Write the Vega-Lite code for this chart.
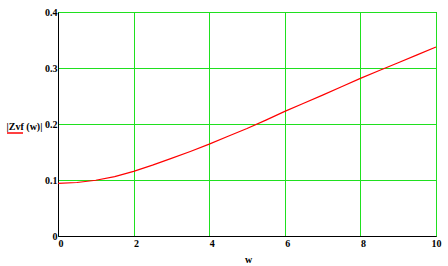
{
  "$schema": "https://vega.github.io/schema/vega-lite/v6.json",
  "width": 378,
  "height": 224,
  "autosize": {"type": "none"},
  "padding": {"left": 58, "top": 12, "right": 12, "bottom": 30},
  "background": "white",
  "config": {
    "view": {"stroke": "black", "strokeWidth": 1},
    "font": "Liberation Serif"
  },
  "data": {
    "values": [
      {"w": 0, "z": 0.094, "s": "Zvf"},
      {"w": 0.5, "z": 0.0955, "s": "Zvf"},
      {"w": 1, "z": 0.0995, "s": "Zvf"},
      {"w": 1.5, "z": 0.106, "s": "Zvf"},
      {"w": 2, "z": 0.1155, "s": "Zvf"},
      {"w": 2.5, "z": 0.1265, "s": "Zvf"},
      {"w": 3, "z": 0.1385, "s": "Zvf"},
      {"w": 3.5, "z": 0.151, "s": "Zvf"},
      {"w": 4, "z": 0.164, "s": "Zvf"},
      {"w": 4.5, "z": 0.178, "s": "Zvf"},
      {"w": 5, "z": 0.192, "s": "Zvf"},
      {"w": 5.5, "z": 0.207, "s": "Zvf"},
      {"w": 6, "z": 0.2225, "s": "Zvf"},
      {"w": 6.5, "z": 0.237, "s": "Zvf"},
      {"w": 7, "z": 0.2515, "s": "Zvf"},
      {"w": 7.5, "z": 0.2665, "s": "Zvf"},
      {"w": 8, "z": 0.2815, "s": "Zvf"},
      {"w": 8.5, "z": 0.2955, "s": "Zvf"},
      {"w": 9, "z": 0.3095, "s": "Zvf"},
      {"w": 9.5, "z": 0.3235, "s": "Zvf"},
      {"w": 10, "z": 0.3375, "s": "Zvf"}
    ]
  },
  "mark": {"type": "line", "strokeWidth": 1.2},
  "encoding": {
    "x": {
      "field": "w",
      "type": "quantitative",
      "scale": {"domain": [0, 10], "nice": false, "zero": false},
      "axis": {
        "values": [0, 2, 4, 6, 8, 10],
        "format": ".2~f",
        "title": "w",
        "titleFont": "Liberation Serif",
        "titleFontWeight": "bold",
        "titleFontSize": 10,
        "titleColor": "black",
        "titleX": 190,
        "titleY": 23,
        "titleAlign": "center",
        "titleBaseline": "middle",
        "labelFont": "Liberation Serif",
        "labelFontWeight": "bold",
        "labelFontSize": 10,
        "labelColor": "black",
        "labelAlign": {"condition": {"test": "datum.value == 10", "value": "center"}, "value": "left"},
        "labelBaseline": "top",
        "labelPadding": 2,
        "labelFlush": false,
        "labelOverlap": false,
        "ticks": false,
        "domainColor": "black",
        "grid": true,
        "gridColor": "#1fe01f",
        "gridOpacity": 1,
        "gridWidth": 1
      }
    },
    "y": {
      "field": "z",
      "type": "quantitative",
      "scale": {"domain": [0, 0.4], "nice": false},
      "axis": {
        "values": [0, 0.1, 0.2, 0.3, 0.4],
        "format": ".2~f",
        "title": "|Zvf (w)|",
        "titleFont": "Liberation Serif",
        "titleFontWeight": "bold",
        "titleFontSize": 10,
        "titleColor": "black",
        "titleAngle": 0,
        "titleX": -34,
        "titleY": 114,
        "titleAlign": "center",
        "titleBaseline": "middle",
        "labelFont": "Liberation Serif",
        "labelFontWeight": "bold",
        "labelFontSize": 10,
        "labelColor": "black",
        "labelAlign": "right",
        "labelBaseline": "middle",
        "labelPadding": 1,
        "labelFlush": false,
        "labelOverlap": false,
        "ticks": false,
        "domainColor": "black",
        "grid": true,
        "gridColor": "#1fe01f",
        "gridOpacity": 1,
        "gridWidth": 1
      }
    },
    "color": {
      "field": "s",
      "type": "nominal",
      "scale": {"range": ["#ff0000"]},
      "legend": {
        "orient": "none",
        "legendX": -52,
        "legendY": 112,
        "title": null,
        "padding": 0,
        "labelExpr": "''",
        "symbolType": "stroke",
        "symbolSize": 256,
        "symbolStrokeWidth": 1.5,
        "symbolOffset": 0
      }
    }
  }
}
